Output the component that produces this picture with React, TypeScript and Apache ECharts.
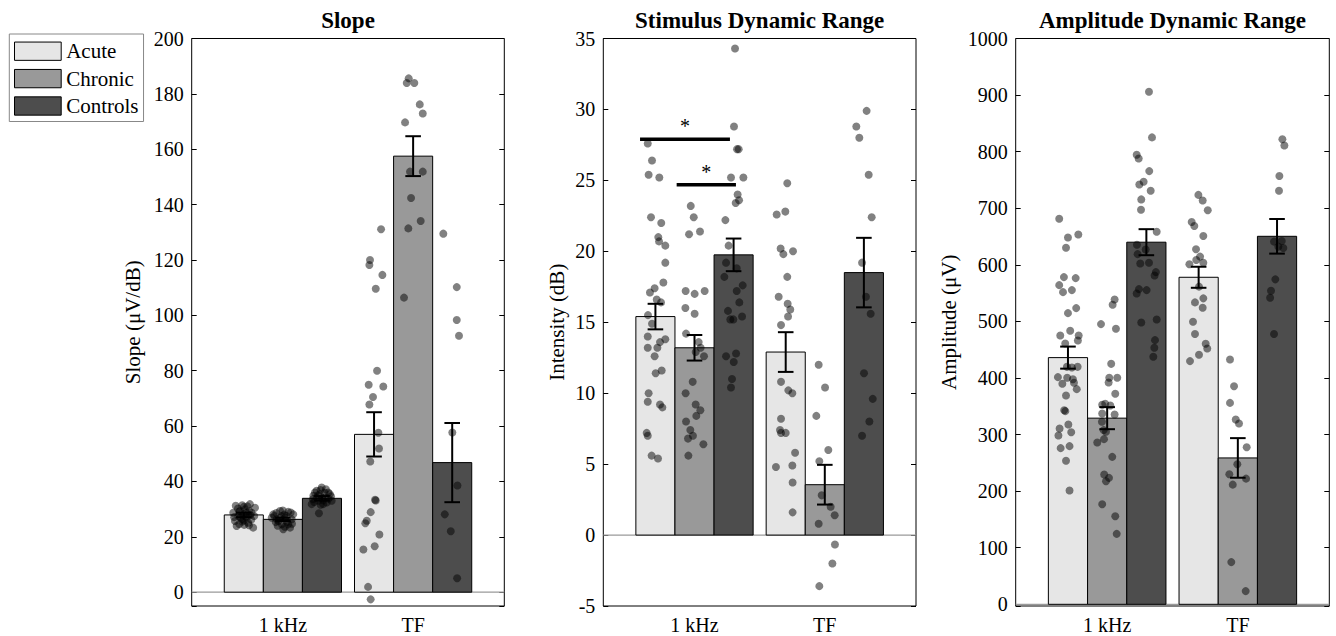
import React, { useEffect, useRef } from 'react';
import * as echarts from 'echarts';

// ---------- data ----------
const groupNames = ['Acute', 'Chronic', 'Controls'];
const conditionLabels = ['1 kHz', 'TF'];
const conditionX = [1, 2];
const groupOffsets = [-0.3, 0, 0.3];

const panelTitles = ['Slope', 'Stimulus Dynamic Range', 'Amplitude Dynamic Range'];
const panelYNames = ['Slope (μV/dB)', 'Intensity (dB)', 'Amplitude (μV)'];
const panelYMin = [-5, -5, -3];
const panelYMax = [200, 35, 1000];
const panelYStep = [20, 5, 100];

// means per group [1 kHz, TF]
const slopeMeans = [[27.9, 57.0], [26.3, 157.5], [33.9, 46.8]];
const slopeSem = [[0.8, 8.0], [0.6, 7.2], [0.8, 14.3]];
const stimMeans = [[15.4, 12.9], [13.2, 3.55], [19.75, 18.5]];
const stimSem = [[0.9, 1.4], [0.9, 1.4], [1.15, 2.45]];
const ampMeans = [[436, 578], [329, 258.7], [640, 650.4]];
const ampSem = [[19.5, 18.6], [19.5, 35], [23, 30.6]];

// individual points [x position, value]
const slopeAcuteDots = [
  [0.638, 31.2], [0.671, 29.3], [0.747, 31.8], [0.709, 29.9], [0.76, 28.7], [0.658, 27.5], [0.722, 26.9],
  [0.632, 25.7], [0.684, 26.3], [0.645, 23.9], [0.734, 25.1], [0.772, 23.3], [0.696, 28.1], [0.786, 30.5],
  [0.619, 28.7], [0.7, 30.8], [0.665, 24.6], [0.715, 27.3], [0.69, 25.5], [0.75, 27.9],
  [0.655, 30.2], [0.728, 31.0], [0.742, 29.2], [0.676, 27.0], [0.703, 24.3], [0.757, 26.2], [0.626, 27.1],
  [0.688, 31.4], [0.72, 28.6], [0.664, 29.0], [0.78, 27.5], [0.7, 26.0], [0.74, 24.2],
  [1.754, 131.1], [1.669, 120.0], [1.664, 118.2], [1.764, 114.6], [1.713, 109.6], [1.723, 80.0], [1.659, 74.9],
  [1.771, 74.3], [1.692, 70.5], [1.664, 67.8], [1.733, 57.6], [1.738, 51.9], [1.671, 47.2], [1.713, 33.1],
  [1.708, 33.4], [1.674, 28.9], [1.644, 25.8], [1.633, 24.9], [1.741, 20.8], [1.705, 16.6], [1.618, 15.4],
  [1.654, 1.9], [1.674, -2.6],
];
const slopeChronicDots = [
  [0.926, 28.1], [0.978, 29.3], [1.041, 29.0], [0.952, 26.3], [1.016, 26.9], [1.068, 26.3], [0.991, 24.5],
  [1.041, 24.5], [1.003, 22.7], [0.934, 27.5], [1.08, 28.1], [0.965, 25.7], [1.055, 23.3], [0.914, 26.9],
  [1.01, 28.0], [0.98, 26.8],
  [0.95, 28.6], [1.025, 27.6], [1.06, 28.8], [0.99, 27.5], [0.96, 24.0], [1.03, 25.3], [1.07, 24.7],
  [0.945, 25.3], [1.0, 29.5], [1.015, 23.6],
  [1.966, 185.6], [1.951, 183.9], [2.009, 183.9], [2.051, 176.2], [2.074, 172.9], [1.938, 169.7],
  [1.976, 151.9], [2.074, 151.9], [1.984, 142.4], [2.058, 134.1], [1.963, 131.4], [1.93, 106.4],
];
const slopeControlsDots = [
  [1.298, 37.8], [1.259, 36.6], [1.349, 36.0], [1.234, 34.8], [1.323, 34.2], [1.375, 33.0], [1.272, 33.0],
  [1.221, 31.8], [1.31, 31.8], [1.277, 28.5], [1.246, 36.0], [1.361, 35.4], [1.336, 32.4], [1.284, 35.4],
  [1.3, 34.0],
  [1.26, 34.2], [1.33, 37.2], [1.29, 36.9], [1.35, 33.8], [1.24, 32.6], [1.31, 33.2], [1.37, 34.6],
  [1.27, 35.0], [1.32, 35.9], [1.29, 31.6], [1.23, 33.6],
  [2.232, 129.5], [2.335, 110.2], [2.335, 98.3], [2.352, 92.6], [2.301, 57.7], [2.34, 38.5], [2.243, 28.1],
  [2.289, 22.0], [2.338, 5.0],
];

const stimAcuteDots = [
  [0.641, 27.6], [0.674, 26.4], [0.648, 25.4], [0.73, 25.2], [0.666, 22.4], [0.745, 22.0], [0.722, 21.0],
  [0.728, 20.7], [0.776, 20.4], [0.776, 19.2], [0.761, 17.8], [0.694, 17.4], [0.658, 17.1], [0.71, 16.6],
  [0.743, 16.4], [0.643, 15.5], [0.674, 14.9], [0.641, 14.0], [0.776, 13.8], [0.735, 13.6], [0.715, 13.2],
  [0.641, 13.2], [0.694, 12.6], [0.748, 11.6], [0.702, 11.4], [0.648, 10.0], [0.641, 9.4], [0.735, 9.2],
  [0.753, 9.0], [0.633, 7.2], [0.641, 7.0], [0.671, 5.6], [0.72, 5.4],
  [1.712, 24.8], [1.631, 22.6], [1.697, 22.8], [1.661, 20.2], [1.756, 20.0], [1.682, 19.8], [1.712, 18.2],
  [1.646, 16.8], [1.715, 16.3], [1.735, 15.9], [1.718, 15.4], [1.664, 14.8], [1.664, 10.8], [1.72, 10.2],
  [1.751, 10.0], [1.664, 8.2], [1.656, 7.4], [1.664, 7.2], [1.7, 7.2], [1.772, 5.8], [1.625, 4.8],
  [1.751, 4.9], [1.753, 3.7], [1.753, 1.6],
];
const stimChronicDots = [
  [0.971, 23.2], [0.994, 22.4], [1.042, 21.4], [0.958, 21.2], [0.932, 17.2], [1.001, 17.0], [1.078, 17.2],
  [0.93, 16.0], [1.001, 15.6], [0.935, 14.2], [1.032, 13.6], [1.047, 13.2], [1.009, 12.9], [1.073, 12.6],
  [0.986, 10.8], [0.932, 10.0], [1.009, 9.2], [1.045, 8.8], [0.935, 8.0], [1.014, 8.4], [0.968, 7.4],
  [0.95, 6.8], [0.988, 7.0], [1.068, 6.4], [0.953, 5.6],
  [1.953, 12.0], [2.002, 10.4], [1.935, 8.4], [2.027, 6.0], [1.958, 5.2], [1.976, 2.8], [2.045, 2.0],
  [2.076, 1.4], [1.953, 0.8], [2.078, -0.66], [2.058, -2.0], [1.958, -3.6],
];
const stimControlsDots = [
  [1.311, 34.3], [1.303, 28.8], [1.326, 27.2], [1.339, 27.2], [1.28, 25.2], [1.375, 25.2], [1.331, 24.0],
  [1.342, 23.6], [1.316, 23.4], [1.237, 22.2], [1.262, 20.4], [1.242, 19.2], [1.324, 18.8], [1.229, 18.2],
  [1.37, 17.6], [1.324, 17.2], [1.344, 16.4], [1.257, 15.8], [1.275, 15.2], [1.365, 15.4], [1.298, 15.2],
  [1.242, 12.6], [1.319, 12.8], [1.301, 12.2], [1.288, 11.0], [1.28, 10.4],
  [2.321, 29.9], [2.242, 28.8], [2.265, 28.0], [2.337, 25.4], [2.36, 22.4], [2.286, 19.2], [2.316, 16.8],
  [2.352, 15.6], [2.301, 11.4], [2.368, 9.6], [2.342, 8.0], [2.286, 7.0],
];

const ampAcuteDots = [
  [0.633, 681.4], [0.7, 648.4], [0.779, 653.7], [0.685, 630.1], [0.669, 578.3], [0.759, 576.5], [0.633, 564.1],
  [0.662, 551.7], [0.73, 555.3], [0.763, 523.5], [0.7, 514.6], [0.717, 483.4], [0.641, 475.1], [0.782, 475.1],
  [0.776, 466.3], [0.679, 461], [0.692, 419.7], [0.774, 419.7], [0.73, 418.6], [0.623, 401.5], [0.694, 400.3],
  [0.738, 397.9], [0.657, 389.7], [0.746, 391.5], [0.767, 380.3], [0.685, 369.1], [0.671, 343.1], [0.68, 341.4],
  [0.703, 317.8], [0.636, 310.7], [0.725, 304.2], [0.627, 298.3], [0.712, 279.5], [0.644, 276], [0.685, 253.6],
  [0.712, 201.1],
  [1.698, 723.6], [1.731, 713.6], [1.77, 696.5], [1.647, 675.8], [1.667, 668.7], [1.736, 651], [1.68, 627.4],
  [1.711, 614.5], [1.682, 608.6], [1.629, 600.9], [1.736, 603.8], [1.703, 561.4], [1.736, 540.7], [1.672, 533.6],
  [1.731, 524.2], [1.657, 499.4], [1.672, 477.6], [1.754, 460.5], [1.766, 452.2], [1.703, 441], [1.634, 429.8],
];
const ampChronicDots = [
  [1.057, 538.8], [1.042, 529.3], [0.953, 495.2], [1.067, 486.9], [1.031, 425], [1.016, 400.3], [1.077, 400.3],
  [1.011, 392], [1.062, 372], [0.962, 352.6], [0.985, 354.3], [1.024, 351.4], [0.962, 337.2], [1.057, 335.5],
  [0.96, 322.5], [0.973, 307.8], [0.991, 305], [0.976, 291.9], [0.924, 286], [1.039, 260.6], [0.977, 229.4],
  [1.014, 223.5], [0.991, 217.6], [0.962, 176.9], [1.062, 155.7], [1.073, 124.5],
  [1.94, 432.7], [1.971, 385.5], [1.94, 356], [1.984, 326.5], [2.009, 319.5], [2.068, 277.6], [1.996, 247.5],
  [1.935, 229.8], [2.063, 222.1], [1.961, 211.5], [1.95, 74.6], [2.06, 23.3],
];
const ampControlsDots = [
  [1.32, 905.9], [1.343, 825.2], [1.226, 794.5], [1.241, 788], [1.322, 765.6], [1.279, 746.7], [1.246, 742],
  [1.333, 730.9], [1.261, 715.6], [1.259, 697.3], [1.379, 658.4], [1.228, 635.4], [1.295, 627.2], [1.233, 618.9],
  [1.253, 602.4], [1.32, 603.6], [1.373, 587.1], [1.363, 581.2], [1.243, 557], [1.226, 549.4], [1.302, 555.3],
  [1.261, 498.1], [1.379, 503.4], [1.366, 466.9], [1.361, 453.3], [1.353, 437.4],
  [2.341, 822], [2.356, 811], [2.318, 757], [2.315, 731], [2.277, 641], [2.336, 642.2], [2.31, 632.2],
  [2.348, 629.8], [2.287, 574.3], [2.254, 554.3], [2.247, 541.9], [2.277, 477.6],
];

// significance brackets in the stimulus panel: [x start, x end, y]
const sigLines = [[0.582, 1.272, 27.9], [0.863, 1.318, 24.7]];
const sigLabels = ['*', '*'];

// ---------- styling / layout ----------
const FONT = "'Liberation Serif', 'Times New Roman', serif";
const groupColors = ['#e6e6e6', '#999999', '#4d4d4d'];
const gridLeft = [191.7, 603.3, 1015.7];
const gridWidth = [312.6, 312.7, 313.6];
const gridTop = 38.5;
const gridHeight = 567.5;
const nameGaps = [48, 36, 56];
const BAR_HALF = 0.15;
const CAP_HALF_PX = 7.8;

const panelMeans = [slopeMeans, stimMeans, ampMeans];
const panelSem = [slopeSem, stimSem, ampSem];
const panelDots = [
  [slopeAcuteDots, slopeChronicDots, slopeControlsDots],
  [stimAcuteDots, stimChronicDots, stimControlsDots],
  [ampAcuteDots, ampChronicDots, ampControlsDots],
];

function buildOption() {
  const grid: any[] = [];
  const xAxis: any[] = [];
  const yAxis: any[] = [];
  const series: any[] = [];
  const title: any[] = [];

  for (let i = 0; i < 3; i++) {
    grid.push({
      left: gridLeft[i], top: gridTop, width: gridWidth[i], height: gridHeight,
      show: true, borderColor: '#000', borderWidth: 1, backgroundColor: 'transparent',
      containLabel: false, outerBoundsMode: 'none',
    });
    title.push({
      text: panelTitles[i], left: gridLeft[i] + gridWidth[i] / 2, top: 9, textAlign: 'center', padding: 0,
      textStyle: { fontSize: 23, fontWeight: 'bold', fontFamily: FONT, color: '#000' },
    });
    xAxis.push({
      type: 'value', gridIndex: i, min: 0.3, max: 2.7, minInterval: 1, maxInterval: 1,
      axisLine: { show: false }, axisTick: { show: false }, splitLine: { show: false },
      axisLabel: {
        fontSize: 20, fontFamily: FONT, color: '#000', margin: 9,
        formatter: (v: number) => {
          const k = conditionX.findIndex((c) => Math.abs(c - v) < 1e-6);
          return k >= 0 ? conditionLabels[k] : '';
        },
      },
    });
    const step = panelYStep[i];
    const yBase = {
      type: 'value', gridIndex: i, min: panelYMin[i], max: panelYMax[i], minInterval: step, maxInterval: step,
      axisLine: { show: false }, splitLine: { show: false },
      axisTick: { show: true, inside: true, length: 5, lineStyle: { color: '#000', width: 1 } },
    };
    yAxis.push({
      ...yBase, position: 'left',
      axisLabel: {
        fontSize: 20, fontFamily: FONT, color: '#000', margin: 8,
        formatter: (v: number) => (Math.abs(v % step) < 1e-9 ? String(v) : ''),
      },
      name: panelYNames[i], nameLocation: 'middle', nameGap: nameGaps[i],
      nameTextStyle: { fontSize: 21, fontFamily: FONT, color: '#000' },
    });
    yAxis.push({ ...yBase, position: 'right', axisLabel: { show: false } });

    // zero baseline
    series.push({
      type: 'custom', xAxisIndex: i, yAxisIndex: 2 * i, z: 1, silent: true,
      data: [[1, 0]],
      renderItem: (params: any, api: any) => {
        const cs = params.coordSys;
        const y = api.coord([1, 0])[1];
        return { type: 'line', shape: { x1: cs.x, y1: y, x2: cs.x + cs.width, y2: y }, style: { stroke: '#9a9a9a', lineWidth: 1.2 } };
      },
    });

    for (let g = 0; g < 3; g++) {
      const means = panelMeans[i][g];
      const sems = panelSem[i][g];
      series.push({
        type: 'custom', name: groupNames[g], xAxisIndex: i, yAxisIndex: 2 * i, z: 2, silent: true,
        itemStyle: { color: groupColors[g] },
        data: conditionX.map((x, k) => [x + groupOffsets[g], means[k]]),
        renderItem: (params: any, api: any) => {
          const x = api.value(0);
          const v = api.value(1);
          const a = api.coord([x - BAR_HALF, v]);
          const b = api.coord([x + BAR_HALF, 0]);
          return {
            type: 'rect',
            shape: { x: a[0], y: Math.min(a[1], b[1]), width: b[0] - a[0], height: Math.abs(b[1] - a[1]) },
            style: { fill: groupColors[g], stroke: '#000', lineWidth: 1 },
          };
        },
      });
      series.push({
        type: 'scatter', xAxisIndex: i, yAxisIndex: 2 * i, z: 3, silent: true,
        symbolSize: 8, itemStyle: { color: 'rgba(0,0,0,0.62)' },
        data: panelDots[i][g],
      });
      series.push({
        type: 'custom', xAxisIndex: i, yAxisIndex: 2 * i, z: 4, silent: true,
        data: conditionX.map((x, k) => [x + groupOffsets[g], means[k], sems[k]]),
        renderItem: (params: any, api: any) => {
          const x = api.value(0);
          const m = api.value(1);
          const s = api.value(2);
          const top = api.coord([x, m + s]);
          const bot = api.coord([x, m - s]);
          const st = { stroke: '#000', lineWidth: 2 };
          return {
            type: 'group',
            children: [
              { type: 'line', shape: { x1: top[0], y1: top[1], x2: bot[0], y2: bot[1] }, style: st },
              { type: 'line', shape: { x1: top[0] - CAP_HALF_PX, y1: top[1], x2: top[0] + CAP_HALF_PX, y2: top[1] }, style: st },
              { type: 'line', shape: { x1: bot[0] - CAP_HALF_PX, y1: bot[1], x2: bot[0] + CAP_HALF_PX, y2: bot[1] }, style: st },
            ],
          };
        },
      });
    }
  }

  // significance lines (stimulus panel)
  series.push({
    type: 'custom', xAxisIndex: 1, yAxisIndex: 2, z: 5, silent: true,
    data: sigLines.map((s, k) => [s[0], s[1], s[2], k]),
    renderItem: (params: any, api: any) => {
      const p1 = api.coord([api.value(0), api.value(2)]);
      const p2 = api.coord([api.value(1), api.value(2)]);
      return {
        type: 'group',
        children: [
          { type: 'line', shape: { x1: p1[0], y1: p1[1], x2: p2[0], y2: p2[1] }, style: { stroke: '#000', lineWidth: 3.5 } },
          {
            type: 'text', x: (p1[0] + p2[0]) / 2, y: p1[1] - 3,
            style: { text: sigLabels[api.value(3)], fontSize: 20, fontFamily: FONT, fill: '#000', align: 'center', verticalAlign: 'bottom' },
          },
        ],
      };
    },
  });

  return {
    animation: false,
    backgroundColor: '#fff',
    title,
    grid,
    xAxis,
    yAxis,
    series,
    legend: {
      orient: 'vertical', left: 9.3, top: 34, padding: [6.7, 5, 5, 4.7], itemGap: 6.4,
      itemWidth: 46.7, itemHeight: 18.3, backgroundColor: '#fff', borderColor: '#888', borderWidth: 1,
      selectedMode: false,
      textStyle: { fontSize: 21, fontFamily: FONT, color: '#000' },
      data: groupNames.map((n, g) => ({
        name: n, icon: 'rect', itemStyle: { color: groupColors[g], borderColor: '#000', borderWidth: 1 },
        textStyle: { fontSize: 21, fontFamily: FONT, color: '#000' },
      })),
    },
  };
}

export default function App() {
  const ref = useRef<HTMLDivElement>(null);
  useEffect(() => {
    if (!ref.current) return;
    const chart = echarts.init(ref.current, undefined, { renderer: 'svg' });
    chart.setOption(buildOption() as any);
    return () => chart.dispose();
  }, []);
  return (
    <div
      ref={ref}
      style={{ position: 'fixed', left: 0, top: 0, width: 1336, height: 636, background: '#fff' }}
    />
  );
}
